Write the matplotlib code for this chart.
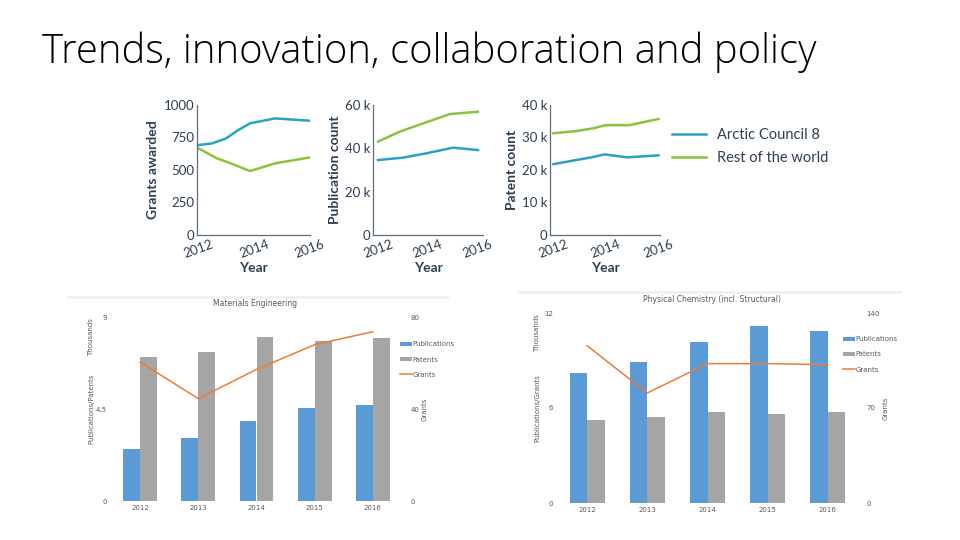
import numpy as np
import matplotlib
matplotlib.use('Agg')
import matplotlib.pyplot as plt
from matplotlib.lines import Line2D

# ---- top row: Arctic Council 8 vs rest of world ----
grant_yr_ac = [2012, 2012.5, 2013, 2013.4, 2013.85, 2014.75, 2016]
grant_ac = [692, 705, 744, 803, 859, 897, 879]
grant_yr_row = [2012, 2012.66, 2013, 2013.85, 2014.75, 2016]
grant_row = [667, 590, 564, 492, 551, 597]

pub_yr_ac = [2012, 2013, 2013.93, 2015, 2016]
pub_ac = [34.6, 35.7, 37.7, 40.3, 39.2]
pub_yr_row = [2012, 2012.87, 2013.8, 2014.87, 2016]
pub_row = [43.1, 47.7, 51.5, 55.8, 56.9]

pat_yr_ac = [2012, 2012.89, 2013.45, 2013.95, 2014.8, 2016]
pat_ac = [21.8, 23.1, 23.9, 24.8, 23.9, 24.5]
pat_yr_row = [2012, 2012.89, 2013.5, 2014, 2014.9, 2016]
pat_row = [31.3, 32.0, 32.8, 33.8, 33.8, 35.7]

# ---- bottom row: subject panels ----
years = ['2012', '2013', '2014', '2015', '2016']
me_pubs = [2.53, 3.07, 3.90, 4.55, 4.68]
me_pats = [7.04, 7.27, 8.04, 7.84, 7.97]
me_grants = [60.4, 44.5, 57.2, 68.0, 73.6]

pc_pubs = [8.21, 8.88, 10.19, 11.2, 10.86]
pc_pats = [5.22, 5.41, 5.75, 5.60, 5.77]
pc_grants = [115.9, 81.1, 102.7, 102.7, 101.9]

W, H = 960, 540
TEAL = '#2ba2c3'
GREEN = '#8bc240'
NAVY = '#2c3e50'
BLUE = '#5b9bd5'
GREY = '#a5a5a5'
ORANGE = '#ed7d31'
TXT = '#595959'


def box(l, t, r, b):
    return [l / W, 1 - b / H, (r - l) / W, (b - t) / H]


fig = plt.figure(figsize=(9.6, 5.4), dpi=100)
fig.patch.set_facecolor('white')

fig.text(42 / W, 1 - 52 / H, 'Trends, innovation, collaboration and policy',
         fontsize=28.8, family='Open Sans', fontweight='light', color='black',
         ha='left', va='center')


def top_panel(rect, xlim, ylim, yticks, ylabels, ylabel, ac_x, ac_y, row_x, row_y):
    ax = fig.add_axes(rect)
    ax.plot(ac_x, ac_y, color=TEAL, lw=1.8)
    ax.plot(row_x, row_y, color=GREEN, lw=1.8)
    ax.set_xlim(*xlim)
    ax.set_ylim(*ylim)
    ax.set_yticks(yticks)
    ax.set_yticklabels(ylabels)
    ax.set_xticks([2012, 2014, 2016])
    ax.set_xticklabels(['2012', '2014', '2016'], rotation=20)
    for s in ['top', 'right']:
        ax.spines[s].set_visible(False)
    for s in ['left', 'bottom']:
        ax.spines[s].set_color('#5d6d7e')
        ax.spines[s].set_linewidth(0.9)
    ax.tick_params(length=0, pad=2, labelsize=9.5, labelcolor=NAVY)
    for lab in ax.get_xticklabels() + ax.get_yticklabels():
        lab.set_family('Lato')
    ax.set_ylabel(ylabel, fontsize=10, color=NAVY, family='Lato', fontweight='bold', labelpad=3)
    ax.set_xlabel('Year', fontsize=10, color=NAVY, family='Lato', fontweight='bold', labelpad=2)
    ax.patch.set_alpha(0)
    return ax


top_panel(box(197, 105, 310, 235), (2011.95, 2016.0), (0, 1000),
          [0, 250, 500, 750, 1000], ['0', '250', '500', '750', '1000'],
          'Grants awarded', grant_yr_ac, grant_ac, grant_yr_row, grant_row)
top_panel(box(373, 105, 483, 235), (2011.8, 2016.2), (0, 60),
          [0, 20, 40, 60], ['0', '20 k', '40 k', '60 k'],
          'Publication count', pub_yr_ac, pub_ac, pub_yr_row, pub_row)
top_panel(box(550, 105, 660, 235), (2011.87, 2016.06), (0, 40),
          [0, 10, 20, 30, 40], ['0', '10 k', '20 k', '30 k', '40 k'],
          'Patent count', pat_yr_ac, pat_ac, pat_yr_row, pat_row)

handles = [Line2D([], [], color=TEAL, lw=1.8), Line2D([], [], color=GREEN, lw=1.8)]
fig.legend(handles, ['Arctic Council 8', 'Rest of the world'],
           loc='upper left', bbox_to_anchor=(665 / W, 1 - 121 / H), frameon=False,
           prop={'family': 'Lato', 'size': 10.5}, labelcolor=NAVY,
           handlelength=2.3, handletextpad=0.75, labelspacing=0.6, borderpad=0)


def bottom_panel(rect, pubs, pats, grants, ymax, gmax, yticks, gticks, ylab, title,
                 title_xy, sep, leg_anchor):
    ax = fig.add_axes(rect)
    x = np.arange(len(years))
    w = 0.29
    ax.bar(x - w / 2, pubs, w, color=BLUE, label='Publications', zorder=2)
    ax.bar(x + w / 2, pats, w, color=GREY, label='Patents', zorder=2)
    ax.set_xlim(-0.5, len(years) - 0.5)
    ax.set_ylim(0, ymax)
    ax.set_yticks(yticks)
    ax.set_yticklabels([('%g' % v) for v in yticks])
    ax.set_xticks(x)
    ax.set_xticklabels(years)
    for s in ax.spines.values():
        s.set_visible(False)
    ax.tick_params(length=0, labelsize=5, labelcolor=TXT, pad=3)
    ax2 = ax.twinx()
    ax2.plot(x, grants, color=ORANGE, lw=1.1, label='Grants', zorder=3)
    ax2.set_ylim(0, gmax)
    ax2.set_yticks(gticks)
    ax2.set_yticklabels([('%g' % v) for v in gticks])
    for s in ax2.spines.values():
        s.set_visible(False)
    ax2.tick_params(length=0, labelsize=5, labelcolor=TXT, pad=6)
    ax2.set_ylabel('Grants', fontsize=5, color=TXT, labelpad=2)

    l, b, wd, ht = rect
    # left-side labels
    fig.text(l - 20 / W, b + ht - 20 / H, 'Thousands', rotation=90, fontsize=5,
             color=TXT, ha='center', va='center')
    fig.text(l - 20 / W, b + ht * 0.5, ylab, rotation=90, fontsize=5,
             color=TXT, ha='center', va='center')
    fig.text(title_xy[0] / W, 1 - title_xy[1] / H, title, fontsize=5.5, color=TXT,
             ha='center', va='center')
    fig.add_artist(Line2D([sep[0] / W, sep[1] / W], [1 - sep[2] / H, 1 - sep[2] / H],
                          color='#f0f0f0', lw=2))
    h1, l1 = ax.get_legend_handles_labels()
    h2, l2 = ax2.get_legend_handles_labels()
    ax2.legend(h1 + h2, l1 + l2, loc='upper left',
               bbox_to_anchor=(leg_anchor[0] / W, 1 - leg_anchor[1] / H),
               bbox_transform=fig.transFigure, frameon=False, fontsize=5,
               labelcolor=TXT, handlelength=1.6, handleheight=0.6,
               handletextpad=0.1, labelspacing=1.3, borderpad=0)
    return ax


bottom_panel(box(111, 317, 402, 501), me_pubs, me_pats, me_grants, 9, 80,
             [0, 4.5, 9], [0, 40, 80], 'Publications/Patents', 'Materials Engineering',
             (255, 303), (68, 447, 297), (397, 338))
bottom_panel(box(557, 313, 858, 503), pc_pubs, pc_pats, pc_grants, 12, 140,
             [0, 6, 12], [0, 70, 140], 'Publications/Grants',
             'Physical Chemistry (incl. Structural)',
             (712, 300), (518, 900, 292), (840, 333))

fig.savefig('out.png', dpi=100, facecolor='white')
